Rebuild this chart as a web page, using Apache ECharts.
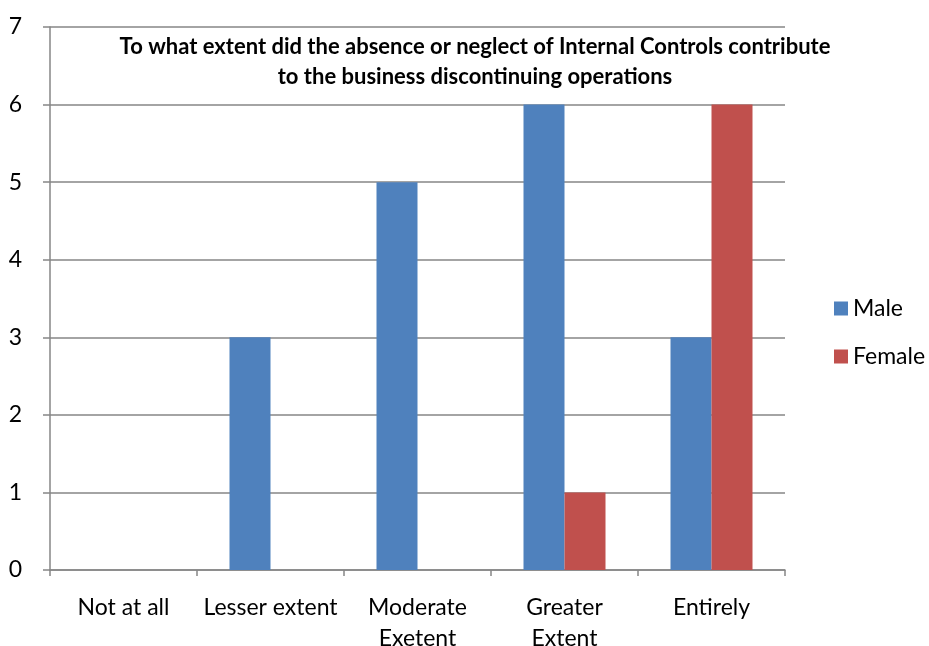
<!DOCTYPE html>
<html><head><meta charset="utf-8">
<script src="https://cdn.jsdelivr.net/npm/echarts@6/dist/echarts.min.js"></script>
<style>html,body{margin:0;padding:0;background:#fff}#c{width:929px;height:646px}</style>
</head><body><div id="c"></div>
<script>
const categories = ["Not at all", "Lesser extent", "Moderate\nExetent", "Greater\nExtent", "Entirely"];
const maleValues = [0, 3, 5, 6, 3];
const femaleValues = [0, 0, 0, 1, 6];
const seriesNames = ["Male", "Female"];
const titleText = "To what extent did the absence or neglect of Internal Controls contribute\nto the business discontinuing operations";

const FONT = "Lato, 'Open Sans', sans-serif";
const chart = echarts.init(document.getElementById('c'), null, {renderer: 'canvas'});
chart.setOption({
  animation: false,
  title: {
    text: titleText, left: 470, top: 27, textAlign: 'center',
    textStyle: {fontFamily: FONT, fontWeight: 'bold', fontSize: 22, color: '#000', lineHeight: 30}
  },
  legend: {
    orient: 'vertical', left: 829, top: 292, itemWidth: 14, itemHeight: 14, itemGap: 25,
    icon: 'rect',
    textStyle: {fontFamily: FONT, fontSize: 23, color: '#000'},
    data: seriesNames
  },
  grid: {left: 50, right: 144, top: 27, bottom: 76, containLabel: false, outerBoundsMode: 'none'},
  xAxis: {
    type: 'category', data: categories,
    axisLine: {lineStyle: {color: '#868686', width: 1.5}},
    axisTick: {show: true, length: 6, lineStyle: {color: '#868686', width: 1.5}},
    axisLabel: {fontFamily: FONT, fontSize: 23, color: '#000', margin: 22, lineHeight: 31, interval: 0}
  },
  yAxis: {
    type: 'value', min: 0, max: 7, interval: 1,
    axisLine: {show: true, lineStyle: {color: '#868686', width: 1.5}},
    axisTick: {show: true, length: 7, lineStyle: {color: '#868686', width: 1.5}},
    axisLabel: {fontFamily: FONT, fontSize: 23, color: '#000', margin: 28},
    splitLine: {lineStyle: {color: '#868686', width: 1.5}}
  },
  series: [
    {name: seriesNames[0], type: 'bar', data: maleValues, barWidth: 41, barGap: '0%',
     itemStyle: {color: '#4F81BD'}},
    {name: seriesNames[1], type: 'bar', data: femaleValues, barWidth: 41, barGap: '0%',
     itemStyle: {color: '#C0504D'}}
  ]
});
</script></body></html>
